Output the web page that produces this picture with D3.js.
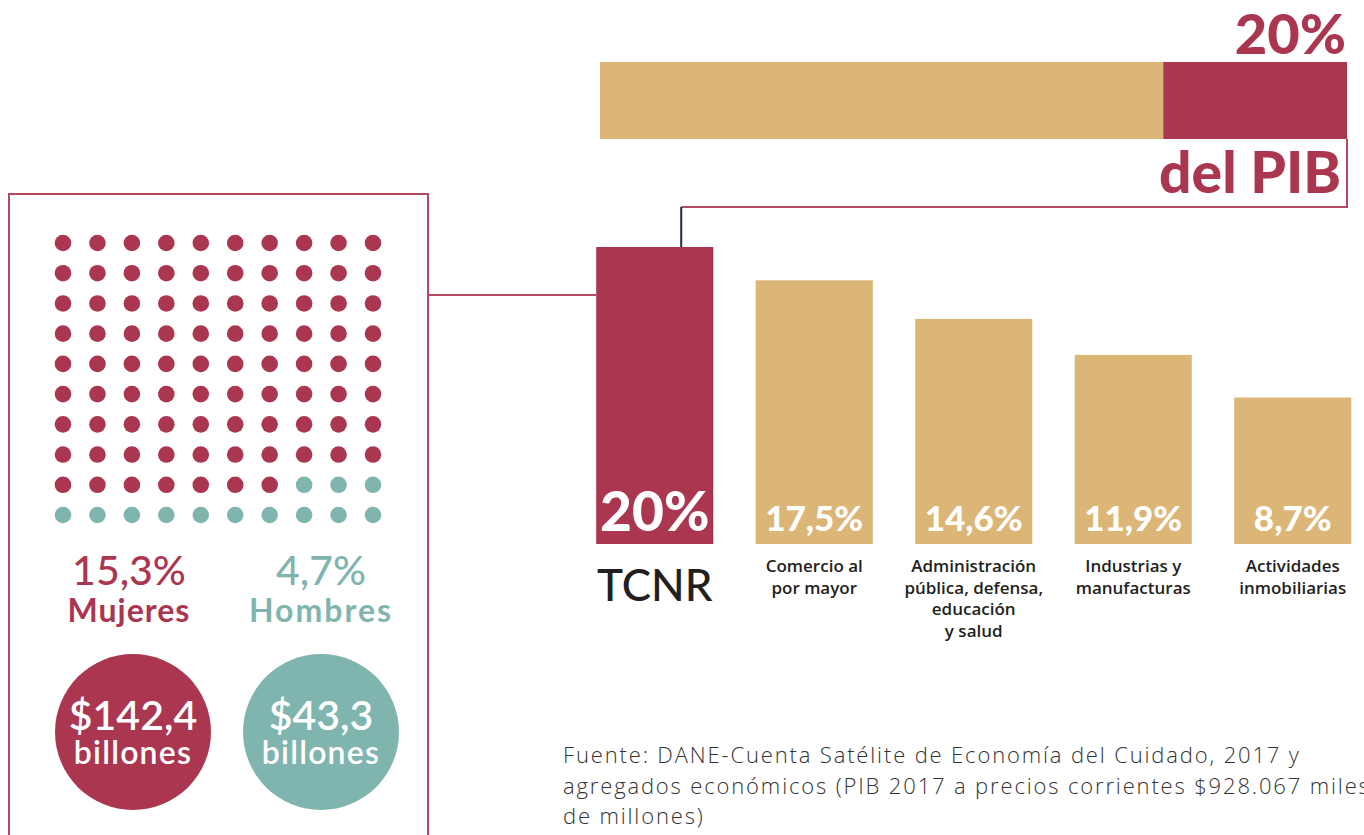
<!DOCTYPE html>
<html><head><meta charset="utf-8">
<script src="https://cdn.jsdelivr.net/npm/d3@7/dist/d3.min.js"></script>
<style>
html,body{margin:0;padding:0;background:#fff;}
svg{display:block;font-family:Lato,"Open Sans",sans-serif;}
</style></head>
<body><svg id="c" width="1364" height="835"></svg>
<script>
// ---- data ----
const categories = ["TCNR", "Comercio al por mayor", "Administración pública, defensa, educación y salud", "Industrias y manufacturas", "Actividades inmobiliarias"];
const categoryLines = [["TCNR"], ["Comercio al", "por mayor"], ["Administración", "pública, defensa,", "educación", "y salud"], ["Industrias y", "manufacturas"], ["Actividades", "inmobiliarias"]];
const shareValues = [20, 17.5, 14.6, 11.9, 8.7];
const shareLabels = ["20%", "17,5%", "14,6%", "11,9%", "8,7%"];
const pibSegments = ["Resto del PIB", "TCNR"];
const pibValues = [75.4, 24.6];   // as drawn in the picture
const pibLabelTop = "20%";
const pibLabelBottom = "del PIB";
const genders = ["Mujeres", "Hombres"];
const genderPct = ["15,3%", "4,7%"];
const genderAmount = ["$142,4", "$43,3"];
const genderDots = [87, 13];
const amountUnit = "billones";
const sourceLines = ["Fuente: DANE-Cuenta Satélite de Economía del Cuidado, 2017 y",
  "agregados económicos (PIB 2017 a precios corrientes $928.067 miles",
  "de millones)"];

// ---- style ----
const RED = "#AB3650", TAN = "#DBB677", TEAL = "#80B5AF", NAVY = "#1F2A44", LINE = "#B44A62", INK = "#231F20";
const svg = d3.select("#c");

// ---- top stacked bar ----
const xPib = d3.scaleLinear().domain([0, d3.sum(pibValues)]).range([600, 1347]);
let acc = 0;
const pibStack = pibValues.map((v, i) => { const s = {key: pibSegments[i], x0: acc, x1: acc + v}; acc += v; return s; });
svg.selectAll("rect.pib").data(pibStack).join("rect").attr("class", "pib")
  .attr("x", d => xPib(d.x0)).attr("width", d => xPib(d.x1) - xPib(d.x0))
  .attr("y", 62).attr("height", 77)
  .attr("fill", (d, i) => i === 1 ? RED : TAN);
svg.append("text").attr("x", 1346).attr("y", 54).attr("text-anchor", "end")
  .attr("font-size", 56).attr("font-weight", 900).attr("fill", RED).text(pibLabelTop);
svg.append("text").attr("x", 1341).attr("y", 193).attr("text-anchor", "end")
  .attr("font-size", 57).attr("font-weight", 900).attr("fill", RED).text(pibLabelBottom);

// ---- bar chart ----
const yBase = -2.3;
const xBar = d3.scaleBand().domain(categories).range([575, 1372.5]).paddingInner(0.266).paddingOuter(0.133);
const yBar = d3.scaleLinear().domain([yBase, 20]).range([544, 247]);
const barData = categories.map((c, i) => ({c, v: shareValues[i], label: shareLabels[i], lines: categoryLines[i], i}));

// connector lines
const tcnrX = xBar(categories[0]);
svg.append("path").attr("fill", "none").attr("stroke", LINE).attr("stroke-width", 2)
  .attr("d", `M${xPib(d3.sum(pibValues))},139 V207 H${tcnrX + 85}`);
svg.append("line").attr("x1", tcnrX + 85).attr("x2", tcnrX + 85).attr("y1", 207).attr("y2", yBar(shareValues[0]))
  .attr("stroke", NAVY).attr("stroke-width", 2);
svg.append("line").attr("x1", 428).attr("x2", tcnrX).attr("y1", 295).attr("y2", 295)
  .attr("stroke", LINE).attr("stroke-width", 2);

svg.selectAll("rect.bar").data(barData).join("rect").attr("class", "bar")
  .attr("x", d => xBar(d.c)).attr("width", xBar.bandwidth())
  .attr("y", d => yBar(d.v)).attr("height", d => yBar(yBase) - yBar(d.v))
  .attr("fill", d => d.i === 0 ? RED : TAN);
svg.selectAll("text.val").data(barData).join("text").attr("class", "val")
  .attr("x", d => xBar(d.c) + xBar.bandwidth() / 2).attr("y", 531)
  .attr("text-anchor", "middle").attr("fill", "#fff").attr("font-weight", 900)
  .attr("font-size", d => d.i === 0 ? 55 : 35).text(d => d.label);
svg.selectAll("g.cat").data(barData).join("g").attr("class", "cat").each(function (d) {
  const g = d3.select(this);
  const cx = xBar(d.c) + xBar.bandwidth() / 2;
  if (d.i === 0) {
    g.append("text").attr("x", cx).attr("y", 601).attr("text-anchor", "middle")
      .attr("font-size", 44).attr("font-weight", 500).attr("fill", INK).text(d.lines[0]);
  } else {
    d.lines.forEach((l, k) => g.append("text").attr("x", cx).attr("y", 572 + k * 21.7)
      .attr("text-anchor", "middle").attr("font-size", 17).attr("font-weight", 600)
      .attr("font-family", "'Open Sans', sans-serif")
      .attr("fill", INK).text(l));
  }
});

// ---- left box ----
svg.append("path").attr("fill", "none").attr("stroke", LINE).attr("stroke-width", 2)
  .attr("d", "M9,840 V194 H428 V840");

const dotCols = d3.scalePoint().domain(d3.range(10)).range([63, 373]);
const dotRows = d3.scalePoint().domain(d3.range(10)).range([243, 515]);
const dots = [];
genderDots.forEach((n, gi) => { for (let k = 0; k < n; k++) dots.push(gi); });
svg.selectAll("circle.dot").data(dots).join("circle").attr("class", "dot")
  .attr("cx", (d, i) => dotCols(i % 10)).attr("cy", (d, i) => dotRows(Math.floor(i / 10)))
  .attr("r", 8.3).attr("fill", d => d === 0 ? RED : TEAL);

const gx = d3.scalePoint().domain(genders).range([129, 321]);
const gColor = [RED, TEAL];
genders.forEach((g, i) => {
  svg.append("text").attr("x", gx(g)).attr("y", 585).attr("text-anchor", "middle")
    .attr("font-size", 41).attr("font-weight", 500).attr("fill", gColor[i]).text(genderPct[i]);
  svg.append("text").attr("x", gx(g)).attr("y", 622).attr("text-anchor", "middle")
    .attr("font-size", 32).attr("font-weight", 700).attr("letter-spacing", i === 0 ? 1 : 2)
    .attr("fill", gColor[i]).text(g);
});
const cx = d3.scalePoint().domain(genders).range([133, 321]);
genders.forEach((g, i) => {
  svg.append("circle").attr("cx", cx(g)).attr("cy", 732).attr("r", 78).attr("fill", gColor[i]);
  svg.append("text").attr("x", cx(g)).attr("y", 730).attr("text-anchor", "middle")
    .attr("font-size", 41).attr("font-weight", 600).attr("fill", "#fff").text(genderAmount[i]);
  svg.append("text").attr("x", cx(g)).attr("y", 764).attr("text-anchor", "middle")
    .attr("font-size", 32).attr("font-weight", 600).attr("letter-spacing", 1.2).attr("fill", "#fff").text(amountUnit);
});

// ---- source ----
svg.selectAll("text.src").data(sourceLines).join("text").attr("class", "src")
  .attr("x", 563).attr("y", (d, i) => 763 + i * 30.5)
  .attr("font-family", "'Open Sans', sans-serif")
  .attr("font-size", 22).attr("font-weight", 300).attr("letter-spacing", 1.85)
  .attr("fill", "#333").text(d => d);
</script></body></html>
